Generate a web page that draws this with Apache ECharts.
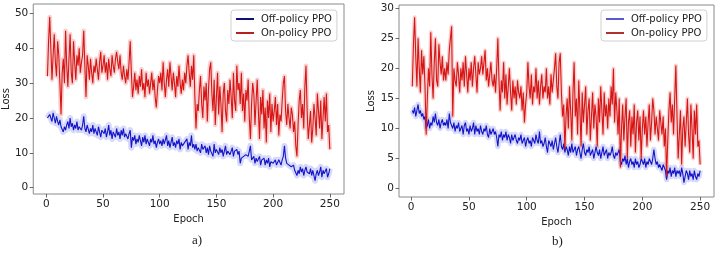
<!DOCTYPE html>
<html>
<head>
<meta charset="utf-8">
<script src="https://cdn.jsdelivr.net/npm/echarts@6/dist/echarts.min.js"></script>
<style>html,body{margin:0;padding:0;background:#fff}#c{width:717px;height:258px}</style>
</head>
<body>
<div id="c"></div>
<script>
// ---- data ----
const xTicks = [0, 50, 100, 150, 200, 250];
const yTicksA = [0, 10, 20, 30, 40, 50];
const yTicksB = [0, 5, 10, 15, 20, 25, 30];
const legendNames = ['Off-policy PPO', 'On-policy PPO'];

const onA = [
32,42,49,40,31,38,44,36,32,42,
38,30,21,33,37,30,45,35,29,37,
44,33,30,42,36,31,38,35,40,33,
36,38,45,35,26,38,35,31,37,33,
30,35,33,37,34,31,36,39,33,35,
38,33,36,31,37,34,32,38,35,33,
37,39,36,34,38,33,31,35,32,30,
34,31,36,42,33,26,29,33,28,31,
27,32,29,34,28,30,26,33,29,31,
27,30,33,28,31,26,23,28,32,30,
33,28,36,30,26,31,34,29,36,32,
28,33,30,26,32,29,35,30,27,31,
28,33,30,35,38,33,29,35,31,38,
26,17,24,22,28,32,24,20,29,25,
30,19,28,34,36,27,22,31,18,26,
33,21,29,24,16,27,30,22,19,28,
24,31,26,20,33,25,22,35,28,30,
24,33,22,27,19,28,25,31,20,14,
24,30,27,18,25,31,22,14,26,21,
28,17,23,13,25,20,27,16,24,19,
22,26,18,24,15,21,19,25,30,32,
22,18,24,20,17,23,21,16,19,12,
9,18,25,28,20,24,17,29,35,22,
14,18,22,13,17,24,20,15,27,22,
17,25,14,20,26,19,27,16,18,11];

const offA = [
20,19.5,21,20,19,21.5,20,18.5,20.5,19,
18,19.5,17.5,18,16,17.5,16.5,18,19,17,
20,17.5,18.5,16.5,18,17,19,16.5,17.5,18,
16.5,18,20.5,17,16,18,17.5,15.5,17,16,
18,15.5,17,16.5,15,17.5,16,14.5,16.5,17,
15.5,17,14.5,16,18,15,16.5,14,16,15.5,
14.5,17,15,16,14,16.5,15,17,14.5,15.5,
16,14,15.5,16.5,11.5,14.5,13.5,15,12.5,14,
13,15,13.5,12,14.5,13,15,12.5,14,13.5,
12,14,13,15,12.5,13.5,11.5,13,14,12.5,
13.5,12,14,12.5,13,15,12,13.5,11.5,13,
14.5,12,13,11.5,13.5,12.5,14,11,13,12,
11.5,13,12.5,14,11,13,12,15,11.5,12.5,
11,12.5,10.5,11.5,12,10,12.5,11,10.5,12,
10,11.5,9.5,12,10.5,11,9,12.5,10,11,
10.5,9.5,11.5,10,11,9,10.5,12,9.5,10.5,
11,9.5,10,11.5,9,10.5,10,11,9.5,10.5,
7,8.5,8,9,8.5,9.5,10,9,10.5,12,
8,7.5,9,7,8.5,7.5,8,9,6.5,8,
7.5,8.5,6.5,8,7,8.5,6,7.5,8,7,
7.5,8,6.5,7,8,7.5,6.5,8,9,12,
8.5,7,7.5,6.5,7,6,5.5,6.5,5,5.5,
3.5,5,4,6,4.5,5.5,3.5,5,6,4.5,
5,4,5.5,3.5,5,4.5,2,4,5,3.5,
4.5,6,3,5,4,3.5,5.5,3,4,5.5];

const onB = [
17,24,28.5,22,17,25,20,16,23,19,
22,17,9,15,20,17,26,19,15,21,
25,18,17,24,21,19,22,18,20,18,
21,19,23,25,27,12,20,18,17,21,
19,16,20,18,21,17,22,19,16,20,
18,21,17,20,22,19,16,21,19,20,
22,19,21,23,18,20,17,19,21,18,
17,19,16,20,25,18,13,18,16,21,
15,19,14,17,20,16,13,18,15,17,
14,18,16,15,17,13,16,11,14,16,
21,17,15,19,14,17,16,20,15,18,
14,17,19,15,17,16,20,15,17,14,
19,16,18,20,22.5,17,15,21,22.5,16,
12,14,6.5,12,15,10,17,13,8,16,
21,12,15,9,18,13,7,16,11,14,
17,9,13,15,8,12,16,10,14,12,
7,15,11,17,13,9,16,12,14,10,
15,12,17,14,20,11,16,13,9,15,
3.5,10,14,8,12,15,5,11,13,7,
12,9,14,6,11,13,8,12,5,10,
13,9,12,7,11,14,8,11,15,13,
9,12,10,8,13,11,9,12,7,10,
2,8,13,16,11,14,9,15,20.5,12,
5,9,13,4,10,12,7,11,15,9,
6,14,10,5,13,9,14,7,8,4];

const offB = [
13,12.5,13.5,12,13,14,12.5,13,12,12.5,
11.5,12,10,10.5,11.5,10,11,10.5,12,11,
12.5,11,10.5,11.5,10,11,11.5,10.5,11,10.5,
11.5,10,12.5,11,10.5,10,11,9.5,10.5,10,
11,9.5,10,10.5,9,10.5,11,9.5,10,9,
10.5,9.5,10,11,9,10.5,9.5,10,9,10.5,
9.5,9,10,9.5,10.5,9,8.5,10,9,9.5,
10,9,9.5,8.5,7,9,8.5,9.5,8,9,
8.5,9.5,8,9,8.5,7.5,9,8,8.5,9,
8,7.5,8.5,8,9,7.5,8,8.5,7,8,
8.5,7.5,8,7,8.5,8,7.5,9,8,7.5,
9.5,7.5,8,7,7.5,8.5,7,6,8,7.5,
7,8,6.5,7.5,8.5,7,6,7.5,9,7,
6.5,7.5,6,7,6.5,5.5,7,6,7.5,6,
6.5,7,5.5,6.5,7,6,5,6.5,7.5,6,
5.5,6.5,6,7,5.5,6,6.5,5,6,7,
6,5.5,6.5,5,6,7,5.5,6,6.5,5,
6,5.5,6,7,5.5,5,6,5.5,6,6.5,
4.5,4,5,4.5,5.5,4,5,3.5,4.5,5,
4,4.5,3.5,5,4,4.5,3.5,4,5,4.5,
4,5,3.5,4.5,4,5,4.5,4,5,6.5,
5,4,4.5,3.5,4,3.5,3,4,3.5,3,
1.5,3,2.5,3.5,2,3,2.5,3.5,2,3,
2.5,3,2,3.5,2.5,1,2,3,2.5,1.5,
3,2,2.5,1.5,3,2,1.5,2.5,2,3];

// ---- chart ----
const pts = arr => arr.map((v, i) => [i + 1, v]);
const FONT = 'DejaVu Sans';
const chart = echarts.init(document.getElementById('c'), null, {renderer: 'canvas'});

function xAxis(idx, min, max) {
  return {
    type: 'value', gridIndex: idx, min: min, max: max,
    name: 'Epoch', nameLocation: 'middle', nameGap: 13,
    nameTextStyle: {fontFamily: FONT, fontSize: 10, color: '#222'},
    axisLine: {show: false, onZero: false},
    axisTick: {show: true, length: 3.5, lineStyle: {color: '#444', width: 0.8}, customValues: xTicks},
    axisLabel: {fontFamily: FONT, fontSize: 10.5, color: '#222', margin: 5, customValues: xTicks},
    splitLine: {show: false}
  };
}
function yAxis(idx, min, max, ticks, gap) {
  return {
    type: 'value', gridIndex: idx, min: min, max: max,
    name: 'Loss', nameLocation: 'middle', nameGap: gap, nameRotate: 90,
    nameTextStyle: {fontFamily: FONT, fontSize: 10, color: '#222'},
    axisLine: {show: false, onZero: false},
    axisTick: {show: true, length: 3.5, lineStyle: {color: '#444', width: 0.8}, customValues: ticks},
    axisLabel: {fontFamily: FONT, fontSize: 10.5, color: '#222', margin: 5, customValues: ticks},
    splitLine: {show: false}
  };
}
function band(name, data, xi, color, w) {
  return {name: name, type: 'line', xAxisIndex: xi, yAxisIndex: xi, data: pts(data),
    symbol: 'none', silent: true, lineStyle: {color: color, width: w, join: 'round'}, z: 1};
}
function main(name, data, xi, color) {
  return {name: name, type: 'line', xAxisIndex: xi, yAxisIndex: xi, data: pts(data),
    symbol: 'none', lineStyle: {color: color, width: 1.1}, itemStyle: {color: color}, z: 3};
}
function legend(left, top, offColor, onColor) {
  return {
    orient: 'vertical', left: left, top: top,
    padding: [4, 5, 3, 5],
    borderColor: '#d0d0d0', borderWidth: 1, borderRadius: 3, backgroundColor: '#fff',
    itemWidth: 18, itemHeight: 2, itemGap: 4,
    textStyle: {fontFamily: FONT, fontSize: 10, color: '#222', padding: [0, 0, 0, 2]},
    data: [
      {name: legendNames[0], icon: 'rect', itemStyle: {color: offColor}},
      {name: legendNames[1], icon: 'rect', itemStyle: {color: onColor}}
    ]
  };
}

chart.setOption({
  animation: false,
  backgroundColor: '#fff',
  grid: [
    {left: 28, top: 4, width: 316, height: 190, show: true, borderColor: '#8a8a8a', borderWidth: 1, backgroundColor: 'transparent'},
    {left: 399, top: 5, width: 315, height: 192, show: true, borderColor: '#8a8a8a', borderWidth: 1, backgroundColor: 'transparent'}
  ],
  xAxis: [xAxis(0, -11.5, 262.5), xAxis(1, -10.5, 262)],
  yAxis: [yAxis(0, -1.8, 52.7, yTicksA, 16), yAxis(1, -1.4, 30.55, yTicksB, 18)],
  legend: [
    legend(231, 10, '#10107a', '#b52020'),
    legend(601, 10, '#5a5ad0', '#b03030')
  ],
  graphic: [
    {type: 'text', left: 192, top: 234, style: {text: 'a)', font: '13px "Liberation Serif"', fill: '#222'}},
    {type: 'text', left: 552, top: 235, style: {text: 'b)', font: '13px "Liberation Serif"', fill: '#222'}}
  ],
  series: [
    band('bandOffA', offA, 0, 'rgba(120,130,240,0.3)', 6),
    band('bandOnA', onA, 0, 'rgba(235,120,120,0.35)', 4.5),
    main(legendNames[0], offA, 0, '#1515c8'),
    main(legendNames[1], onA, 0, '#d81515'),
    band('bandOffB', offB, 1, 'rgba(120,130,240,0.3)', 5.5),
    band('bandOnB', onB, 1, 'rgba(235,120,120,0.35)', 4),
    main(legendNames[0], offB, 1, '#1515c8'),
    main(legendNames[1], onB, 1, '#d81515')
  ]
});
</script>
</body>
</html>
